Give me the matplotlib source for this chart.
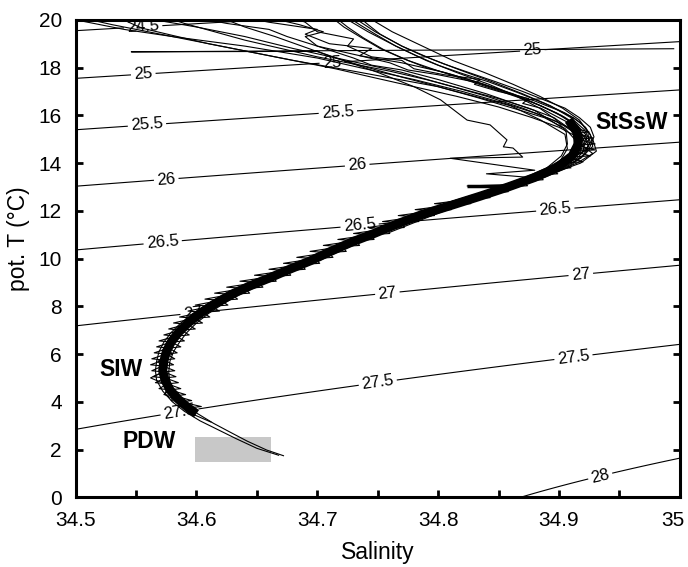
import numpy as np
import matplotlib
matplotlib.use("Agg")
import matplotlib.pyplot as plt
import matplotlib.transforms as mtransforms
from matplotlib.ticker import MultipleLocator, FormatStrFormatter
from matplotlib.patches import Rectangle

plt.rcParams['font.family'] = ['Liberation Sans', 'DejaVu Sans']

# isopycnal levels (sigma-theta) and where their labels sit (S, T)
sigma_levels = [24.5, 25, 25.5, 26, 26.5, 27, 27.5, 28]
label_pos = [(34.556, 19.58), (34.556, 17.69), (34.712, 18.24), (34.878, 18.74),
             (34.559, 15.6), (34.717, 16.14), (34.575, 13.29), (34.733, 13.92),
             (34.572, 10.69), (34.735, 11.4), (34.897, 12.03),
             (34.597, 7.63), (34.758, 8.55), (34.918, 9.39),
             (34.586, 3.56), (34.750, 4.82), (34.912, 5.87), (34.934, 0.92)]

# CTD casts, (salinity, potential temperature)
cast1 = [(34.668, 1.76), (34.650, 2.05), (34.633, 2.45), (34.617, 2.85), (34.603, 3.2),
         (34.590, 3.6), (34.580, 4.0), (34.572, 4.45), (34.567, 4.9), (34.566, 5.3),
         (34.567, 5.7), (34.569, 6.1), (34.573, 6.5), (34.579, 6.9), (34.587, 7.3),
         (34.597, 7.7), (34.609, 8.1), (34.623, 8.5), (34.638, 8.85), (34.655, 9.2),
         (34.671, 9.55), (34.688, 9.9), (34.705, 10.3), (34.723, 10.7), (34.741, 11.05),
         (34.760, 11.45), (34.780, 11.85), (34.802, 12.2), (34.826, 12.6), (34.850, 13.0),
         (34.872, 13.4), (34.890, 13.8), (34.902, 14.3), (34.907, 14.8), (34.906, 15.3),
         (34.898, 15.8), (34.884, 16.3), (34.865, 16.8), (34.842, 17.3), (34.815, 17.8),
         (34.790, 18.3), (34.765, 18.9), (34.742, 19.5), (34.722, 20.1)]
cast2 = [(34.672, 1.74), (34.658, 1.98), (34.642, 2.35), (34.627, 2.75), (34.614, 3.1),
         (34.601, 3.5), (34.591, 3.9), (34.583, 4.35), (34.578, 4.8), (34.577, 5.25),
         (34.578, 5.7), (34.581, 6.1), (34.586, 6.5), (34.592, 6.9), (34.600, 7.3),
         (34.610, 7.7), (34.622, 8.1), (34.636, 8.5), (34.651, 8.85), (34.667, 9.2),
         (34.684, 9.55), (34.701, 9.9), (34.718, 10.3), (34.736, 10.7), (34.754, 11.05),
         (34.773, 11.45), (34.794, 11.85), (34.817, 12.2), (34.842, 12.6), (34.866, 13.0),
         (34.888, 13.4), (34.907, 13.8), (34.920, 14.3), (34.925, 14.8), (34.924, 15.3),
         (34.917, 15.8), (34.903, 16.3), (34.884, 16.8), (34.862, 17.3), (34.838, 17.8),
         (34.812, 18.3), (34.787, 18.9), (34.762, 19.5), (34.742, 20.1)]
cast3 = [(34.612, 3.15), (34.596, 3.5), (34.588, 3.9), (34.574, 4.3), (34.576, 4.7),
         (34.562, 5.0), (34.574, 5.3), (34.568, 5.7), (34.580, 6.0), (34.575, 6.3),
         (34.585, 6.7), (34.584, 7.0), (34.598, 7.4), (34.600, 7.7), (34.618, 8.1),
         (34.626, 8.4), (34.646, 8.8), (34.655, 9.1), (34.680, 9.5), (34.690, 9.8),
         (34.713, 10.2), (34.722, 10.5), (34.746, 10.9), (34.760, 11.3), (34.775, 11.6),
         (34.800, 12.05), (34.822, 12.4), (34.846, 12.85), (34.870, 13.2), (34.895, 13.6),
         (34.915, 14.0), (34.928, 14.4), (34.920, 14.7), (34.925, 15.0), (34.912, 15.4),
         (34.895, 15.8), (34.870, 16.3), (34.840, 16.8), (34.805, 17.3), (34.770, 17.8),
         (34.725, 18.3), (34.680, 18.8), (34.640, 19.3), (34.600, 19.7), (34.560, 20.05)]
cast4 = [(34.812, 12.4), (34.838, 12.8), (34.862, 13.2), (34.884, 13.6), (34.900, 14.0),
         (34.907, 14.6), (34.905, 15.2), (34.885, 15.8), (34.860, 16.4), (34.800, 17.2),
         (34.730, 17.85), (34.680, 18.3), (34.630, 18.8), (34.580, 19.3), (34.530, 19.8),
         (34.508, 20.05)]
cast5 = [(34.760, 11.1), (34.780, 11.5), (34.800, 11.9), (34.822, 12.3), (34.842, 12.6),
         (34.858, 13.0), (34.824, 13.04), (34.860, 13.1), (34.875, 13.4), (34.840, 13.55),
         (34.880, 13.7), (34.810, 14.2), (34.870, 14.25), (34.862, 14.63), (34.854, 14.68),
         (34.857, 14.97), (34.843, 15.6), (34.824, 15.8), (34.802, 16.65), (34.780, 17.2),
         (34.750, 17.8), (34.700, 18.68), (34.546, 18.66), (34.995, 18.79)]
cast6 = [(34.815, 12.3), (34.840, 12.7), (34.865, 13.1), (34.888, 13.5), (34.908, 13.9),
         (34.922, 14.4), (34.926, 14.9), (34.921, 15.4), (34.910, 15.9), (34.893, 16.4),
         (34.870, 16.9), (34.845, 17.4), (34.818, 17.9), (34.795, 18.35), (34.770, 18.9),
         (34.748, 19.5), (34.730, 20.1)]
cast7 = [(34.805, 12.3), (34.832, 12.7), (34.857, 13.1), (34.880, 13.5), (34.900, 13.9),
         (34.912, 14.3), (34.918, 14.8), (34.912, 15.3), (34.900, 15.7), (34.880, 16.1),
         (34.855, 16.5), (34.820, 17.0), (34.780, 17.5), (34.735, 18.0), (34.700, 18.4),
         (34.640, 18.9), (34.580, 19.3), (34.540, 19.6), (34.500, 20.0)]
cast8 = [(34.820, 12.4), (34.848, 12.8), (34.872, 13.2), (34.896, 13.6), (34.918, 14.0),
         (34.931, 14.5), (34.928, 15.0), (34.922, 15.5), (34.912, 15.9), (34.900, 16.2),
         (34.880, 16.6), (34.855, 17.0), (34.830, 17.4), (34.800, 17.7), (34.775, 17.9),
         (34.760, 18.2), (34.735, 18.5), (34.745, 18.8), (34.710, 19.0), (34.690, 19.4),
         (34.700, 19.6), (34.660, 19.9), (34.640, 20.1)]
cast9 = [(34.810, 12.3), (34.836, 12.7), (34.862, 13.1), (34.885, 13.5), (34.903, 13.9),
         (34.917, 14.4), (34.921, 14.9), (34.917, 15.4), (34.905, 15.9), (34.885, 16.4),
         (34.860, 16.9), (34.832, 17.4), (34.805, 17.8), (34.770, 18.2), (34.735, 18.5),
         (34.700, 18.9), (34.675, 19.3), (34.660, 19.6), (34.625, 19.85), (34.600, 20.1)]
cast10 = [(34.902, 15.5), (34.880, 16.2), (34.840, 16.9), (34.800, 17.5), (34.770, 17.9),
          (34.745, 18.1), (34.730, 18.4), (34.700, 18.9), (34.690, 19.3), (34.705, 19.5),
          (34.685, 19.8), (34.660, 20.1)]
cast11 = [(34.895, 13.7), (34.915, 14.2), (34.924, 14.7), (34.922, 15.2), (34.915, 15.6),
          (34.902, 16.0), (34.885, 16.4), (34.862, 16.9), (34.838, 17.3), (34.812, 17.7),
          (34.790, 18.0), (34.770, 18.4), (34.752, 18.8), (34.735, 19.3), (34.722, 19.7),
          (34.712, 20.1)]
cast12 = [(34.898, 13.7), (34.918, 14.2), (34.928, 14.7), (34.926, 15.2), (34.918, 15.7),
          (34.905, 16.1), (34.888, 16.5), (34.866, 16.95), (34.842, 17.4), (34.820, 17.75),
          (34.800, 18.1), (34.782, 18.5), (34.765, 18.9), (34.748, 19.4), (34.735, 19.8),
          (34.726, 20.1)]
cast13 = [(34.890, 13.8), (34.908, 14.3), (34.915, 14.9), (34.910, 15.4), (34.896, 15.9),
          (34.875, 16.3), (34.850, 16.7), (34.820, 17.1), (34.790, 17.5), (34.760, 17.85),
          (34.730, 18.15), (34.700, 18.45), (34.670, 18.8), (34.640, 19.15), (34.615, 19.5),
          (34.590, 19.85), (34.575, 20.1)]
cast14 = [(34.905, 14.0), (34.920, 14.5), (34.922, 15.0), (34.915, 15.5), (34.900, 15.9),
          (34.885, 16.3), (34.870, 16.5), (34.875, 16.7), (34.850, 17.0), (34.830, 17.3),
          (34.835, 17.5), (34.805, 17.7), (34.780, 17.95), (34.770, 18.3), (34.745, 18.45),
          (34.725, 18.9), (34.730, 19.2), (34.700, 19.5), (34.690, 19.9), (34.680, 20.1)]
cast15 = [(34.900, 13.9), (34.916, 14.4), (34.920, 15.0), (34.913, 15.6), (34.898, 16.1),
          (34.878, 16.55), (34.852, 17.0), (34.825, 17.45), (34.798, 17.9), (34.775, 18.3),
          (34.755, 18.75), (34.738, 19.25), (34.725, 19.7), (34.715, 20.1)]
cast16 = [(34.905, 14.1), (34.918, 14.6), (34.915, 15.1), (34.900, 15.5), (34.878, 15.9),
          (34.850, 16.35), (34.815, 16.8), (34.780, 17.2), (34.745, 17.6), (34.715, 17.95),
          (34.680, 18.3), (34.640, 18.7), (34.610, 19.0), (34.580, 19.35), (34.555, 19.65),
          (34.535, 20.1)]
cast17 = [(34.900, 14.0), (34.912, 14.5), (34.913, 15.0), (34.905, 15.45), (34.888, 15.9),
          (34.862, 16.3), (34.832, 16.75), (34.800, 17.2), (34.770, 17.6), (34.742, 18.0),
          (34.715, 18.4), (34.690, 18.85), (34.665, 19.3), (34.640, 19.7), (34.620, 20.1)]
cast18 = [(34.910, 14.2), (34.925, 14.6), (34.929, 15.1), (34.926, 15.5), (34.917, 15.9),
          (34.905, 16.3), (34.890, 16.6), (34.870, 17.0), (34.848, 17.4), (34.825, 17.8),
          (34.805, 18.15), (34.785, 18.55), (34.770, 18.9), (34.752, 19.4), (34.742, 19.8),
          (34.735, 20.1)]
casts = [cast1, cast2, cast3, cast4, cast5, cast6, cast7, cast8, cast9, cast10,
         cast11, cast12, cast13, cast14, cast15, cast16, cast17, cast18]

# centre of the dense deep band
core = [(34.600, 3.5), (34.593, 3.75), (34.585, 4.1), (34.578, 4.5),
        (34.574, 4.9), (34.572, 5.3), (34.573, 5.7), (34.575, 6.1), (34.579, 6.5),
        (34.585, 6.9), (34.593, 7.3), (34.603, 7.7), (34.615, 8.1), (34.629, 8.5),
        (34.644, 8.85), (34.661, 9.2), (34.677, 9.55), (34.694, 9.9), (34.711, 10.3),
        (34.729, 10.7), (34.747, 11.05), (34.766, 11.45), (34.787, 11.85), (34.809, 12.2),
        (34.834, 12.6), (34.858, 13.0), (34.880, 13.4), (34.898, 13.8), (34.911, 14.3),
        (34.916, 14.8), (34.915, 15.3), (34.908, 15.8)]

# salinity spikes on the fresh (left) and salty (right) side of the band
spike_left = [(34.594, 3.75), (34.586, 3.8), (34.587, 4.0), (34.579, 4.05), (34.582, 4.25),
              (34.573, 4.3), (34.578, 4.5), (34.569, 4.55), (34.576, 4.75), (34.566, 4.8),
              (34.574, 5.0), (34.564, 5.05), (34.573, 5.25), (34.563, 5.3), (34.572, 5.5),
              (34.562, 5.55), (34.573, 5.75), (34.563, 5.8), (34.575, 6.0), (34.565, 6.05),
              (34.577, 6.25), (34.567, 6.3), (34.579, 6.5), (34.569, 6.55), (34.583, 6.75),
              (34.573, 6.8), (34.587, 7.0), (34.577, 7.05), (34.592, 7.25), (34.581, 7.3),
              (34.598, 7.5), (34.586, 7.55), (34.605, 7.75), (34.593, 7.8), (34.612, 8.0),
              (34.599, 8.05), (34.620, 8.25), (34.607, 8.3), (34.629, 8.5), (34.615, 8.55),
              (34.640, 8.75), (34.625, 8.8), (34.651, 9.0), (34.636, 9.05), (34.663, 9.25),
              (34.648, 9.3), (34.675, 9.5), (34.660, 9.55), (34.687, 9.75), (34.672, 9.8),
              (34.698, 10.0), (34.683, 10.05), (34.709, 10.25), (34.694, 10.3), (34.720, 10.5),
              (34.705, 10.55), (34.732, 10.75), (34.717, 10.8), (34.745, 11.0), (34.730, 11.05),
              (34.757, 11.25), (34.742, 11.3), (34.769, 11.5), (34.754, 11.55), (34.782, 11.75),
              (34.767, 11.8), (34.796, 12.0), (34.781, 12.05), (34.812, 12.25), (34.797, 12.3),
              (34.828, 12.5)]
spike_right = [(34.594, 3.75), (34.604, 3.8), (34.587, 4.0), (34.596, 4.05), (34.582, 4.25),
               (34.591, 4.3), (34.578, 4.5), (34.587, 4.55), (34.576, 4.75), (34.585, 4.8),
               (34.574, 5.0), (34.583, 5.05), (34.573, 5.25), (34.582, 5.3), (34.572, 5.5),
               (34.581, 5.55), (34.573, 5.75), (34.582, 5.8), (34.575, 6.0), (34.584, 6.05),
               (34.577, 6.25), (34.587, 6.3), (34.579, 6.5), (34.590, 6.55), (34.583, 6.75),
               (34.594, 6.8), (34.587, 7.0), (34.599, 7.05), (34.592, 7.25), (34.605, 7.3),
               (34.598, 7.5), (34.611, 7.55), (34.605, 7.75), (34.619, 7.8), (34.612, 8.0),
               (34.626, 8.05), (34.620, 8.25), (34.634, 8.3), (34.629, 8.5), (34.644, 8.55),
               (34.640, 8.75), (34.655, 8.8), (34.651, 9.0), (34.666, 9.05), (34.663, 9.25),
               (34.678, 9.3), (34.675, 9.5), (34.690, 9.55), (34.687, 9.75), (34.702, 9.8),
               (34.698, 10.0), (34.713, 10.05), (34.709, 10.25), (34.724, 10.3), (34.720, 10.5),
               (34.735, 10.55), (34.732, 10.75), (34.747, 10.8), (34.745, 11.0), (34.760, 11.05),
               (34.757, 11.25), (34.772, 11.3), (34.769, 11.5), (34.784, 11.55), (34.782, 11.75),
               (34.797, 11.8), (34.796, 12.0), (34.811, 12.05), (34.812, 12.25), (34.827, 12.3),
               (34.828, 12.5), (34.843, 12.55), (34.843, 12.75), (34.858, 12.8), (34.858, 13.0),
               (34.874, 13.05), (34.870, 13.25), (34.887, 13.3), (34.882, 13.5), (34.899, 13.55),
               (34.893, 13.75), (34.910, 13.8), (34.902, 14.0), (34.920, 14.05), (34.908, 14.25),
               (34.926, 14.3), (34.912, 14.5), (34.930, 14.55), (34.915, 14.75), (34.930, 14.8),
               (34.916, 15.0), (34.928, 15.05), (34.915, 15.25), (34.925, 15.3), (34.911, 15.5)]

# thick salinity step near 13 degC
step_s = [34.824, 34.858]
step_t = [13.04, 13.04]

# PDW box (S range, T range)
pdw_s = [34.599, 34.662]
pdw_t = [1.47, 2.52]


def sigma0(S, T):
    # UNESCO EOS-80 at surface pressure
    rho_w = (999.842594 + 6.793952e-2 * T - 9.095290e-3 * T**2 + 1.001685e-4 * T**3
             - 1.120083e-6 * T**4 + 6.536332e-9 * T**5)
    A = 8.24493e-1 - 4.0899e-3 * T + 7.6438e-5 * T**2 - 8.2467e-7 * T**3 + 5.3875e-9 * T**4
    B = -5.72466e-3 + 1.0227e-4 * T - 1.6546e-6 * T**2
    C = 4.8314e-4
    return rho_w + A * S + B * S**1.5 + C * S**2 - 1000.0


fig = plt.figure(figsize=(6.88, 5.67), dpi=100)
ax = fig.add_axes([0.110, 0.123, 0.878, 0.842])

sg, tg = np.meshgrid(np.linspace(34.5, 35.0, 300), np.linspace(0, 20, 300))
cs = ax.contour(sg, tg, sigma0(sg, tg), levels=sigma_levels, colors='k',
                linewidths=0.8, zorder=1)
ax.clabel(cs, fmt='%g', fontsize=12, inline=True, inline_spacing=3,
          manual=label_pos)

ax.add_patch(Rectangle((pdw_s[0], pdw_t[0]), pdw_s[1] - pdw_s[0], pdw_t[1] - pdw_t[0],
                       facecolor='#c8c8c8', edgecolor='none', zorder=2))

c = np.array(core)
ax.plot(c[:, 0], c[:, 1], color='k', lw=6.5, solid_capstyle='butt', zorder=4)
for sp_line in (spike_left, spike_right):
    a = np.array(sp_line)
    ax.plot(a[:, 0], a[:, 1], color='k', lw=0.8, zorder=4)
for cast in casts:
    a = np.array(cast)
    ax.plot(a[:, 0], a[:, 1], color='k', lw=0.8, zorder=4)
ax.plot(step_s, step_t, color='k', lw=2.5, solid_capstyle='butt', zorder=4)

ax.text(34.930, 15.72, 'StSsW', fontsize=16.5, fontweight='bold', va='center', zorder=5)
ax.text(34.520, 5.37, 'SIW', fontsize=16.5, fontweight='bold', va='center', zorder=5)
ax.text(34.539, 2.35, 'PDW', fontsize=16.5, fontweight='bold', va='center', zorder=5)

ax.set_xlim(34.5, 35.0)
ax.set_ylim(0, 20)
ax.xaxis.set_major_locator(MultipleLocator(0.1))
ax.xaxis.set_minor_locator(MultipleLocator(0.05))
ax.xaxis.set_major_formatter(FormatStrFormatter('%g'))
ax.yaxis.set_major_locator(MultipleLocator(2))
ax.tick_params(which='both', direction='in', length=5, width=2, top=False,
               right=True, labelsize=15, pad=10)
for sp in ax.spines.values():
    sp.set_linewidth(2.2)

ax.set_xlabel('Salinity', fontsize=16.5, labelpad=8)
ax.set_ylabel('pot. T (°C)', fontsize=16.5)
ax.yaxis.set_label_coords(-0.075, 0.541)

# keep the "35" label inside the figure, as in the original
fig.canvas.draw()
shift = mtransforms.ScaledTranslation(-5 / 72, 0, fig.dpi_scale_trans)
for tick in ax.xaxis.get_major_ticks():
    if abs(tick.get_loc() - 35.0) < 1e-6:
        tick.label1.set_transform(tick.label1.get_transform() + shift)

fig.savefig('out.png', dpi=100)
